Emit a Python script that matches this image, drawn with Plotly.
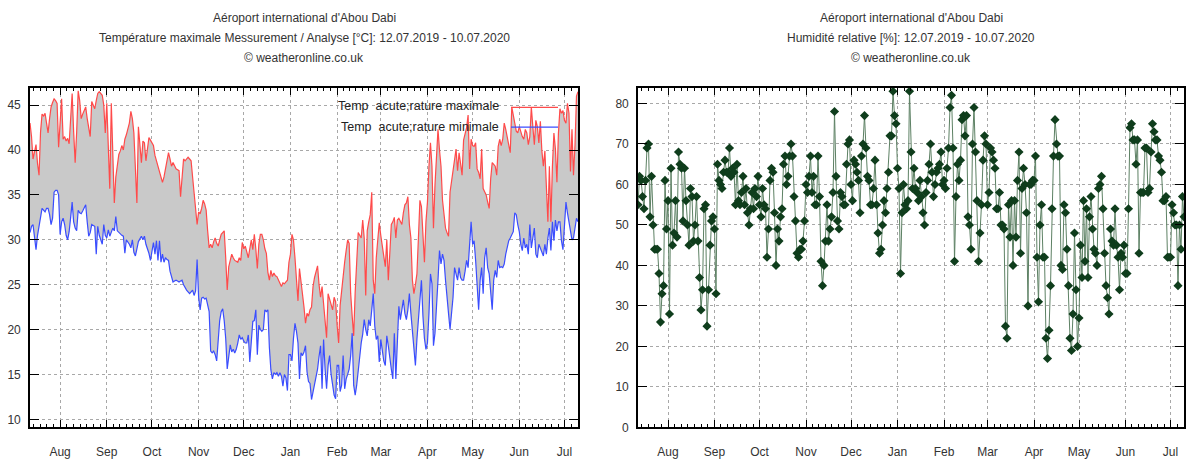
import pandas as pd
import plotly.graph_objects as go

# ---------------- data (daily, 12.07.2019 - 10.07.2020) ----------------
dates = pd.date_range("2019-07-12", "2020-07-10", freq="D")

tmax_jul19 = [43.0, 41.5, 39.0, 40.0, 40.6, 38.5, 37.2, 42.0, 44.0, 43.8, 44.1, 43.0, 41.9, 43.5, 44.8, 45.3, 45.7, 45.5, 45.2, 40.3]
tmax_aug = [43.0, 45.7, 41.2, 41.5, 41.0, 41.3, 40.7, 44.0, 46.3, 42.0, 38.6, 42.0, 46.6, 45.5, 43.5, 44.0, 44.5, 44.8, 43.5, 42.6, 41.5, 45.4, 45.0, 44.6, 45.5, 46.3, 46.5, 46.3, 46.1, 45.0, 41.9]
tmax_sep = [45.2, 40.0, 35.7, 45.2, 39.0, 34.1, 37.0, 38.6, 39.5, 39.9, 40.5, 40.0, 41.2, 41.7, 42.5, 43.0, 44.3, 43.5, 41.9, 38.0, 34.1, 42.6, 40.0, 38.6, 41.0, 40.8, 38.8, 40.5, 41.4, 41.1]
tmax_oct = [40.8, 40.5, 39.4, 38.8, 38.1, 37.5, 37.0, 36.4, 37.0, 37.9, 38.5, 39.7, 39.0, 38.2, 38.6, 38.3, 37.9, 37.8, 37.7, 34.8, 37.0, 39.0, 38.8, 39.0, 39.2, 39.0, 38.8, 37.0, 35.3, 33.0, 31.7]
tmax_nov = [33.1, 32.9, 33.5, 34.4, 34.0, 33.3, 31.0, 29.1, 29.5, 29.1, 29.8, 30.2, 29.6, 29.3, 30.0, 30.6, 30.8, 31.0, 28.0, 24.4, 27.0, 27.8, 28.4, 28.0, 27.7, 27.6, 27.5, 28.0, 27.7, 29.7]
tmax_dec = [29.0, 29.3, 28.6, 28.0, 29.0, 30.0, 28.9, 30.6, 29.0, 26.8, 29.5, 30.6, 30.6, 30.0, 29.0, 28.5, 26.4, 25.5, 26.6, 25.9, 26.3, 26.0, 25.9, 25.5, 25.0, 24.8, 25.2, 25.1, 25.3, 25.5, 27.5]
tmax_jan = [28.4, 30.6, 30.0, 28.0, 25.5, 23.2, 26.8, 25.5, 24.4, 22.5, 20.7, 21.8, 21.5, 22.2, 22.5, 24.8, 25.8, 26.6, 27.1, 25.0, 23.6, 24.8, 23.0, 21.8, 19.1, 24.0, 23.3, 22.8, 22.2, 23.6, 23.1]
tmax_feb = [20.5, 18.5, 22.7, 24.5, 26.0, 27.5, 28.8, 30.0, 29.6, 24.0, 21.5, 19.3, 24.2, 27.5, 30.8, 30.5, 30.2, 32.2, 30.2, 23.8, 31.0, 32.0, 32.8, 35.3, 25.5, 24.0, 28.0, 30.0, 31.9]
tmax_mar = [30.5, 29.4, 28.0, 27.0, 30.0, 25.5, 28.5, 31.7, 32.0, 32.5, 30.2, 32.2, 32.4, 32.0, 31.7, 33.0, 33.9, 34.1, 34.8, 31.7, 30.2, 25.5, 24.0, 25.0, 26.2, 30.2, 34.4, 33.7, 30.0, 27.5, 32.0]
tmax_apr = [34.2, 38.2, 40.8, 38.2, 31.3, 36.1, 39.5, 42.3, 40.0, 38.2, 34.4, 32.5, 31.3, 30.8, 30.4, 35.3, 36.5, 37.2, 39.0, 40.1, 37.7, 39.7, 38.5, 37.2, 41.1, 41.9, 42.5, 43.9, 37.9, 41.2]
tmax_may = [40.5, 40.4, 40.8, 37.9, 37.5, 36.8, 40.1, 35.7, 35.3, 35.0, 34.2, 33.5, 36.8, 38.6, 38.4, 38.2, 37.2, 40.4, 41.2, 40.5, 41.2, 43.0, 42.3, 41.5, 40.8, 39.7, 44.8, 43.7, 43.0, 42.1, 41.9]
tmax_jun = [42.6, 42.0, 41.5, 41.2, 42.3, 41.9, 40.6, 41.5, 44.8, 42.6, 40.6, 43.3, 42.6, 40.8, 43.2, 39.9, 38.2, 39.9, 36.4, 32.0, 38.2, 32.0, 38.2, 41.9, 40.1, 36.4, 41.9, 44.6, 44.1, 44.4]
tmax_jul20 = [43.3, 43.0, 45.2, 44.1, 37.6, 42.3, 37.2, 40.5, 46.0, 46.5]

tmin_jul19 = [30.8, 31.5, 31.7, 30.5, 28.9, 30.5, 31.7, 32.5, 33.5, 33.3, 33.1, 33.5, 33.5, 32.8, 31.7, 32.4, 35.3, 35.5, 35.5, 35.0]
tmin_aug = [30.6, 32.0, 32.4, 31.7, 30.5, 30.0, 30.9, 32.5, 34.2, 32.0, 31.3, 31.0, 33.3, 33.0, 32.9, 33.2, 33.5, 33.9, 32.0, 30.4, 30.8, 31.7, 31.6, 31.5, 28.4, 31.5, 30.5, 30.0, 29.5, 31.7, 30.5]
tmin_sep = [30.2, 31.1, 30.4, 30.8, 31.3, 31.0, 32.6, 31.0, 30.8, 30.6, 30.5, 30.4, 28.5, 30.0, 29.8, 29.5, 29.1, 30.0, 28.6, 28.2, 29.0, 29.8, 30.1, 30.4, 30.0, 30.4, 29.5, 29.1, 28.5, 27.7]
tmin_oct = [28.5, 29.7, 28.4, 29.9, 27.7, 29.9, 27.5, 28.4, 27.5, 28.0, 27.8, 27.7, 26.5, 25.7, 25.3, 25.4, 25.5, 25.4, 25.3, 25.4, 25.5, 25.0, 24.6, 24.4, 24.2, 24.0, 24.2, 24.4, 23.8, 24.3, 27.8]
tmin_nov = [23.6, 22.2, 23.5, 23.6, 23.4, 23.5, 22.6, 22.0, 17.6, 17.4, 17.6, 17.2, 16.5, 19.4, 21.0, 22.0, 22.3, 21.0, 19.0, 15.6, 17.0, 18.3, 17.5, 17.8, 17.4, 17.8, 18.5, 19.4, 18.9, 19.1]
tmin_dec = [18.7, 18.5, 18.5, 19.4, 16.4, 19.0, 20.9, 21.0, 22.2, 17.2, 20.5, 20.0, 19.8, 20.0, 22.2, 22.0, 22.2, 18.0, 15.5, 14.5, 15.2, 15.0, 15.2, 14.8, 15.2, 14.8, 13.7, 15.0, 14.6, 13.2, 17.2]
tmin_jan = [17.2, 16.5, 19.0, 20.7, 19.8, 18.5, 14.5, 17.4, 17.1, 17.5, 18.2, 15.3, 14.2, 14.0, 12.2, 13.1, 13.8, 14.5, 15.6, 17.0, 18.2, 13.4, 18.9, 15.6, 13.4, 16.0, 17.1, 15.0, 13.8, 12.7, 12.3]
tmin_feb = [16.0, 16.0, 13.1, 13.8, 17.1, 13.4, 14.5, 15.0, 15.6, 17.1, 19.6, 13.8, 12.7, 13.8, 15.6, 17.1, 18.5, 19.5, 21.1, 20.0, 19.3, 21.1, 20.4, 22.2, 24.0, 20.4, 18.9, 19.3, 16.4]
tmin_mar = [18.9, 17.4, 16.5, 16.0, 19.3, 18.2, 16.7, 15.6, 14.5, 19.6, 14.5, 17.8, 22.6, 21.1, 22.0, 23.3, 21.8, 21.1, 22.2, 24.0, 21.8, 20.0, 18.2, 16.0, 18.9, 21.1, 23.6, 25.5, 21.5, 19.0, 17.8]
tmin_apr = [18.5, 21.8, 26.2, 25.1, 18.2, 19.6, 22.0, 25.5, 28.8, 27.3, 28.4, 27.7, 25.5, 23.3, 21.8, 20.0, 21.5, 23.6, 26.9, 26.2, 25.5, 26.9, 25.8, 25.5, 25.5, 26.5, 27.7, 26.9, 29.9, 32.0]
tmin_may = [29.5, 29.9, 27.7, 25.5, 22.2, 25.5, 26.9, 24.0, 28.0, 29.1, 26.9, 26.2, 24.0, 22.2, 25.5, 26.6, 25.8, 27.7, 26.9, 27.0, 26.9, 27.3, 28.4, 29.1, 29.9, 30.2, 30.6, 30.9, 33.0, 32.8, 31.7]
tmin_jun = [30.9, 29.5, 28.8, 30.2, 29.1, 29.5, 28.4, 31.7, 29.1, 30.2, 31.3, 28.4, 28.0, 29.5, 29.1, 28.5, 28.2, 29.5, 28.4, 30.2, 31.3, 28.8, 32.0, 29.9, 32.2, 31.0, 32.0, 32.0, 29.9, 28.9]
tmin_jul20 = [32.4, 34.2, 33.0, 32.0, 30.9, 30.0, 30.2, 31.5, 32.4, 32.0]

hum_jul19 = [55, 62, 61, 57, 54, 61, 69, 70, 52, 62, 50, 44, 44, 44, 38, 26, 33, 35, 61, 49]
hum_aug = [56, 28, 64, 45, 48, 56, 47, 68, 65, 64, 51, 64, 56, 50, 45, 59, 57, 46, 50, 57, 46, 37, 29, 34, 54, 55, 25, 34, 45, 51, 52]
hum_sep = [49, 33, 65, 61, 60, 59, 63, 66, 63, 63, 69, 62, 64, 63, 55, 65, 56, 55, 58, 62, 55, 59, 53, 50, 54, 58, 54, 59, 57, 62]
hum_oct = [55, 52, 59, 55, 54, 42, 49, 61, 64, 63, 53, 40, 49, 46, 52, 54, 65, 67, 60, 62, 67, 70, 67, 57, 51, 43, 42, 44, 44, 46, 51]
hum_nov = [60, 58, 62, 67, 58, 62, 55, 55, 67, 57, 41, 35, 40, 46, 55, 46, 49, 52, 58, 78, 62, 51, 49, 58, 57, 55, 55, 65, 70, 71]
hum_dec = [60, 56, 66, 65, 63, 61, 53, 67, 70, 77, 69, 62, 61, 55, 55, 59, 66, 55, 48, 43, 44, 50, 56, 53, 59, 63, 72, 72, 83, 77, 75]
hum_jan = [64, 59, 38, 53, 60, 55, 54, 56, 83, 68, 59, 64, 59, 58, 56, 61, 57, 53, 50, 58, 61, 65, 70, 63, 57, 60, 63, 64, 65, 68, 60]
hum_feb = [61, 59, 64, 69, 79, 82, 69, 41, 57, 65, 61, 66, 76, 77, 72, 77, 52, 50, 44, 70, 79, 68, 56, 41, 48, 55, 66, 72, 70]
hum_mar = [55, 58, 69, 68, 66, 64, 54, 54, 58, 50, 50, 49, 25, 22, 55, 47, 56, 40, 56, 47, 61, 68, 43, 59, 64, 60, 53, 30, 60, 60, 61]
hum_apr = [61, 67, 42, 31, 50, 55, 42, 42, 22, 17, 24, 35, 54, 67, 76, 70, 67, 67, 40, 39, 55, 53, 44, 35, 22, 19, 28, 48, 34, 20]
hum_may = [27, 45, 37, 56, 41, 54, 37, 52, 57, 49, 44, 43, 40, 59, 60, 62, 54, 43, 35, 32, 28, 49, 46, 45, 54, 45, 42, 34, 43, 42, 45]
hum_jun = [38, 38, 54, 74, 75, 71, 71, 65, 71, 43, 58, 58, 58, 69, 69, 58, 59, 68, 75, 73, 71, 71, 67, 66, 63, 56, 56, 57, 42, 42]
hum_jul20 = [42, 55, 53, 50, 50, 35, 50, 44, 57, 52]

tmax = (tmax_jul19 + tmax_aug + tmax_sep + tmax_oct + tmax_nov + tmax_dec + tmax_jan
        + tmax_feb + tmax_mar + tmax_apr + tmax_may + tmax_jun + tmax_jul20)
tmin = (tmin_jul19 + tmin_aug + tmin_sep + tmin_oct + tmin_nov + tmin_dec + tmin_jan
        + tmin_feb + tmin_mar + tmin_apr + tmin_may + tmin_jun + tmin_jul20)
hum = (hum_jul19 + hum_aug + hum_sep + hum_oct + hum_nov + hum_dec + hum_jan
       + hum_feb + hum_mar + hum_apr + hum_may + hum_jun + hum_jul20)

label_max = "Temp  acute;rature maximale"
label_min = "Temp  acute;rature minimale"
title_left = ["Aéroport international d'Abou Dabi",
              "Température maximale Messurement / Analyse [°C]: 12.07.2019 - 10.07.2020",
              "© weatheronline.co.uk"]
title_right = ["Aéroport international d'Abou Dabi",
               "Humidité relative [%]: 12.07.2019 - 10.07.2020",
               "© weatheronline.co.uk"]

# ---------------- figure ----------------
W, H = 1186, 460
def px(x):
    return x / W
def py(y):
    return 1 - y / H

FONT = "Liberation Sans, Arial, sans-serif"
TXT = "#333333"

fig = go.Figure()
fig.add_trace(go.Scatter(x=dates, y=tmin, mode="lines", name=label_min,
                         line=dict(color="#3a4dff", width=1.2),
                         xaxis="x", yaxis="y", showlegend=False))
fig.add_trace(go.Scatter(x=dates, y=tmax, mode="lines", name=label_max,
                         line=dict(color="#ff4a4a", width=1.2),
                         fill="tonexty", fillcolor="#c9c9c9",
                         xaxis="x", yaxis="y", showlegend=False))
fig.add_trace(go.Scatter(x=dates, y=hum, mode="lines+markers", name="Humidité relative",
                         line=dict(color="#5d8164", width=1),
                         marker=dict(symbol="diamond", size=7, color="#0f3d1c",
                                     line=dict(width=0)),
                         xaxis="x2", yaxis="y2", showlegend=False))

# minor ticks: 7 subdivisions per month
minor_vals = []
m = pd.Timestamp("2019-07-01")
while m < pd.Timestamp("2020-08-01"):
    nxt = m + pd.offsets.MonthBegin(1)
    span = (nxt - m) / 7
    for k in range(1, 7):
        t = m + span * k
        if pd.Timestamp("2019-07-12") <= t <= pd.Timestamp("2020-07-10"):
            minor_vals.append(t)
    m = nxt

xr = ["2019-07-12", "2020-07-10"]
common_x = dict(type="date", range=xr, dtick="M1", tick0="2019-08-01", tickformat="%b",
                ticks="inside", ticklen=8, tickwidth=1.3, tickcolor="#000",
                showline=True, linecolor="#000", linewidth=1.6, mirror="ticks",
                showgrid=True, gridcolor="#a8a8a8", griddash="dot", gridwidth=1,
                zeroline=False, tickfont=dict(family=FONT, size=12, color=TXT),
                ticklabelstandoff=12,
                minor=dict(tickmode="array", tickvals=minor_vals, ticks="inside",
                           ticklen=4, tickwidth=1, tickcolor="#000", showgrid=False))
common_y = dict(ticks="inside", ticklen=9, tickwidth=1.3, tickcolor="#000",
                showline=True, linecolor="#000", linewidth=1.6, mirror="ticks",
                showgrid=True, gridcolor="#a8a8a8", griddash="dot", gridwidth=1,
                zeroline=False, tickfont=dict(family=FONT, size=12, color=TXT),
                ticklabelstandoff=5)

ydom = [py(434), py(89)]
fig.update_layout(
    width=W, height=H, margin=dict(l=0, r=0, t=0, b=0),
    paper_bgcolor="white", plot_bgcolor="white", showlegend=False,
    xaxis=dict(domain=[px(30), px(578)], anchor="y", **common_x),
    yaxis=dict(domain=ydom, anchor="x", range=[9.1, 46.95], dtick=5, tick0=10, **common_y),
    xaxis2=dict(domain=[px(638), px(1184)], anchor="y2", **common_x),
    yaxis2=dict(domain=ydom, anchor="x2", range=[0, 83.9], dtick=10, tick0=0, **common_y),
)

ann = []
for i, yy in enumerate([18, 39, 59]):
    ann.append(dict(text=title_left[i], x=px(304), y=py(yy), xref="paper", yref="paper",
                    xanchor="center", yanchor="middle", showarrow=False,
                    font=dict(family=FONT, size=12, color=TXT)))
    ann.append(dict(text=title_right[i], x=px(911), y=py(yy), xref="paper", yref="paper",
                    xanchor="center", yanchor="middle", showarrow=False,
                    font=dict(family=FONT, size=12, color=TXT)))
# legend (text right-aligned, sample line on the right, as in the reference)
ann.append(dict(text=label_max, x=px(501), y=py(108), xref="paper", yref="paper",
                xanchor="right", yanchor="middle", showarrow=False,
                font=dict(family=FONT, size=12.5, color="#222")))
ann.append(dict(text=label_min, x=px(501), y=py(129), xref="paper", yref="paper",
                xanchor="right", yanchor="middle", showarrow=False,
                font=dict(family=FONT, size=12.5, color="#222")))
fig.update_layout(annotations=ann)
fig.add_shape(type="line", xref="paper", yref="paper", x0=px(511), x1=px(558),
              y0=py(109), y1=py(109), line=dict(color="#ff4a4a", width=1.2))
fig.add_shape(type="line", xref="paper", yref="paper", x0=px(511), x1=px(558),
              y0=py(129), y1=py(129), line=dict(color="#3a4dff", width=1.2))

fig.write_html("out.html")
